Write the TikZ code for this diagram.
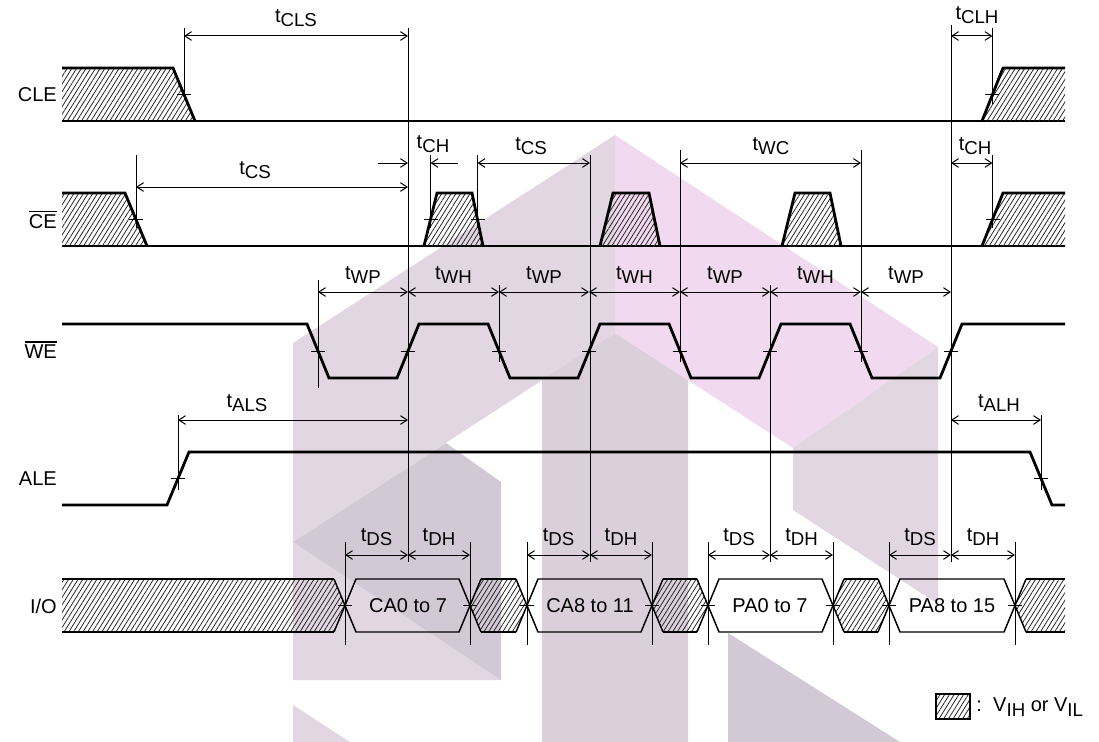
\documentclass[tikz,border=0pt]{standalone}
\usepackage{fontspec}
\setmainfont{Liberation Sans}
\usetikzlibrary{arrows.meta,patterns.meta}
\newcommand\tsub[1]{t\raisebox{-0.42ex}{\fontsize{14}{16}\selectfont #1}}
\newcommand\ovl[1]{\setbox0\hbox{#1}\rlap{\rule[\dimexpr\ht0+1.6pt\relax]{\wd0}{0.9pt}}\box0}
\definecolor{wmL}{HTML}{E3D6E3}
\definecolor{wmP}{HTML}{F1D9EF}
\definecolor{wmS}{HTML}{DCCFDC}
\definecolor{wmD}{HTML}{D3C8D6}
\begin{document}
\begin{tikzpicture}[x=0.75pt,y=-0.75pt,
 sig/.style={line width=2.1pt},
 dsig/.style={line width=1.1pt},
 thinl/.style={line width=0.75pt},
 dimarr/.style={line width=0.75pt,{Straight Barb[length=5pt,width=6.5pt]}-{Straight Barb[length=5pt,width=6.5pt]}},
 onearr/.style={line width=0.75pt,-{Straight Barb[length=5pt,width=6.5pt]}},
 hatch/.style={pattern={Lines[angle=58,distance=3pt,line width=0.6pt]},pattern color=black!85},
 sname/.style={font=\fontsize{15}{18}\selectfont,inner sep=0,anchor=east},
 tlab/.style={font=\fontsize{15}{18}\selectfont,inner sep=0},
]
\useasboundingbox (0,0) rectangle (1099,742);
% ---------------- watermark ----------------
\fill[wmL] (293,343) -- (615,135) -- (615,333) -- (293,542) -- cycle;
\fill[wmL] (293,542) -- (501,680) -- (293,680) -- cycle;
\fill[wmD] (293,542) -- (446,443) -- (501,482) -- (501,680) -- cycle;
\fill[wmS] (542,380) -- (615,333) -- (688,380) -- (688,742) -- (542,742) -- cycle;
\fill[wmP] (615,135) -- (938,347) -- (793,448) -- (615,333) -- cycle;
\fill[wmL] (793,448) -- (938,347) -- (938,604) -- (793,510) -- cycle;
\fill[wmL] (293,705) -- (350,742) -- (293,742) -- cycle;
\fill[wmD] (728,633) -- (900,742) -- (728,742) -- cycle;
% ---------------- signal names ----------------
\node[sname] (nCLE) at (57,95) {CLE};
\node[sname] (nCE) at (57,220) {\ovl{CE}};
\node[sname] (nWE) at (57,350) {\ovl{WE}};
\node[sname] (nALE) at (57,479) {ALE};
\node[sname] (nIO) at (57,606) {I/O};
% ---------------- CLE ----------------
\fill[hatch] (62,68) -- (173,68) -- (195,121) -- (62,121) -- cycle;
\draw[sig] (62,68) -- (173,68) -- (195,121);
\draw[sig] (62,121) -- (1065,121);
\fill[hatch] (982,121) -- (1003,68) -- (1065,68) -- (1065,121) -- cycle;
\draw[sig] (982,121) -- (1003,68) -- (1065,68);
\draw[thinl] (177,94.5) -- (191,94.5);
\draw[thinl] (985,94.5) -- (999,94.5);
% ---------------- CE ----------------
\fill[hatch] (62,193) -- (125,193) -- (147,246) -- (62,246) -- cycle;
\draw[sig] (62,193) -- (125,193) -- (147,246);
\draw[sig] (62,246) -- (1065,246);
\foreach \a/\b/\c/\d in {424/437/472/483, 600/613/649/660, 782/795/830/841}{
  \fill[hatch] (\a,246) -- (\b,193) -- (\c,193) -- (\d,246) -- cycle;
  \draw[sig] (\a,246) -- (\b,193) -- (\c,193) -- (\d,246);
}
\fill[hatch] (982,246) -- (1003,193) -- (1065,193) -- (1065,246) -- cycle;
\draw[sig] (982,246) -- (1003,193) -- (1065,193);
\foreach \x in {136,430.5,477.5,992.5}{\draw[thinl] (\x-7,219.5) -- (\x+7,219.5);}
% ---------------- WE ----------------
\draw[sig] (62,324) -- (307,324) -- (329,378) -- (397,378) -- (419,324) -- (488,324) -- (510,378)
  -- (578,378) -- (600,324) -- (669,324) -- (691,378) -- (759,378) -- (781,324) -- (850,324)
  -- (872,378) -- (940,378) -- (962,324) -- (1065,324);
\foreach \x in {318,408,499,589,680,770,861,951}{\draw[thinl] (\x-7,351) -- (\x+7,351);}
% ---------------- ALE ----------------
\draw[sig] (62,505) -- (167,505) -- (189,452) -- (1030,452) -- (1052,505) -- (1065,505);
\draw[thinl] (171,478.5) -- (185,478.5);
\draw[thinl] (1034,478.5) -- (1048,478.5);
% ---------------- I/O ----------------
\fill[hatch] (62,579) -- (334,579) -- (345,605.5) -- (334,632) -- (62,632) -- cycle;
\draw[sig] (62,579) -- (334,579);
\draw[sig] (62,632) -- (334,632);
\draw[dsig] (334,579) -- (345,605.5) -- (334,632);
\foreach \a/\b in {470/527, 652/708, 833/889}{
  \fill[hatch] (\a,605.5) -- (\a+11,579) -- (\b-11,579) -- (\b,605.5) -- (\b-11,632) -- (\a+11,632) -- cycle;
  \draw[sig] (\a+11,579) -- (\b-11,579);
  \draw[sig] (\a+11,632) -- (\b-11,632);
  \draw[dsig] (\a+11,579) -- (\a,605.5) -- (\a+11,632);
  \draw[dsig] (\b-11,579) -- (\b,605.5) -- (\b-11,632);
}
\fill[hatch] (1015,605.5) -- (1026,579) -- (1065,579) -- (1065,632) -- (1026,632) -- cycle;
\draw[sig] (1026,579) -- (1065,579);
\draw[sig] (1026,632) -- (1065,632);
\draw[dsig] (1026,579) -- (1015,605.5) -- (1026,632);
\foreach \a/\b/\t/\m in {345/470/CA0 to 7/408, 527/652/CA8 to 11/590, 708/833/PA0 to 7/770, 889/1015/PA8 to 15/952}{
  \draw[dsig] (\a,605.5) -- (\a+11,579) -- (\b-11,579) -- (\b,605.5) -- (\b-11,632) -- (\a+11,632) -- cycle;
  \node[tlab] (d\m) at (\m,606) {\t};
}
\foreach \x in {345,470,527,652,708,833,889,1015}{
  \draw[thinl] (\x-7,605.5) -- (\x+7,605.5);
  \draw[thinl] (\x,542) -- (\x,645);
}
% ---------------- vertical reference lines ----------------
\draw[thinl] (184,28) -- (184,100);
\draw[thinl] (408,28) -- (408,562);
\draw[thinl] (951,25) -- (951,562);
\draw[thinl] (992.5,28) -- (992.5,104);
\draw[thinl] (136,155) -- (136,228);
\draw[thinl] (430.5,155) -- (430.5,228);
\draw[thinl] (477.5,155) -- (477.5,228);
\draw[thinl] (590,155) -- (590,562);
\draw[thinl] (680,150) -- (680,362);
\draw[thinl] (861,150) -- (861,362);
\draw[thinl] (992.5,155) -- (992.5,228);
\draw[thinl] (318,280) -- (318,388);
\draw[thinl] (499,285) -- (499,362);
\draw[thinl] (770,285) -- (770,562);
\draw[thinl] (178,415) -- (178,490);
\draw[thinl] (1041,415) -- (1041,490);
% ---------------- dimension arrows and labels ----------------
\draw[dimarr] (184,36) -- (408,36);
\node[tlab] (tCLS) at (296,18) {\tsub{CLS}};
\draw[dimarr] (951,36) -- (992.5,36);
\node[tlab] (tCLH) at (977,15) {\tsub{CLH}};
\draw[dimarr] (136,187) -- (408,187);
\node[tlab] (tCS1) at (255,170) {\tsub{CS}};
\draw[onearr] (378,163) -- (408,163);
\draw[onearr] (458,163) -- (430.5,163);
\node[tlab] (tCH1) at (433,144) {\tsub{CH}};
\draw[dimarr] (477.5,163) -- (590,163);
\node[tlab] (tCS2) at (531,146) {\tsub{CS}};
\draw[dimarr] (680,163) -- (861,163);
\node[tlab] (tWC) at (771,146) {\tsub{WC}};
\draw[dimarr] (951,163) -- (992.5,163);
\node[tlab] (tCH2) at (975,146) {\tsub{CH}};
\foreach \a/\b/\t in {318/408/WP, 408/499/WH, 499/589/WP, 589/680/WH, 680/770/WP, 770/861/WH, 861/951/WP}{
  \draw[dimarr] (\a,292) -- (\b,292);
  \node[tlab] (w\a) at ({(\a+\b)/2},275) {\tsub{\t}};
}
\draw[dimarr] (178,420) -- (408,420);
\node[tlab] (tALS) at (247,403) {\tsub{ALS}};
\draw[dimarr] (951,420) -- (1041,420);
\node[tlab] (tALH) at (999,403) {\tsub{ALH}};
\foreach \a/\m/\b in {345/408/470, 527/590/652, 708/770/833, 889/951/1015}{
  \draw[dimarr] (\a,555) -- (\m,555);
  \draw[dimarr] (\m,555) -- (\b,555);
  \node[tlab] (ds\m) at ({(\a+\m)/2},537) {\tsub{DS}};
  \node[tlab] (dh\m) at ({(\m+\b)/2},537) {\tsub{DH}};
}
% ---------------- legend ----------------
\fill[hatch] (936,694) rectangle (970,719);
\draw[line width=1.6pt] (936,694) rectangle (970,719);
\node[tlab,anchor=west] (leg) at (976,707) {:\hspace{3pt} V\raisebox{-0.42ex}{\fontsize{14}{16}\selectfont IH} or V\raisebox{-0.42ex}{\fontsize{14}{16}\selectfont IL}};
\end{tikzpicture}
\end{document}
